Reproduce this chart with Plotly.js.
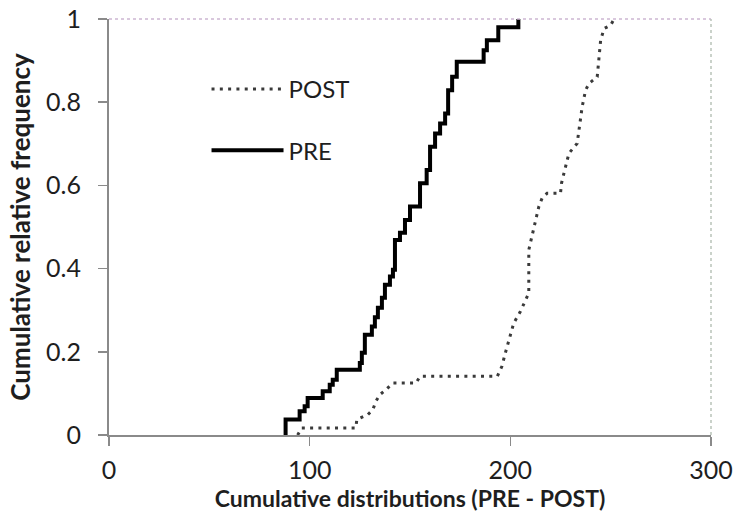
<!DOCTYPE html>
<html>
<head>
<meta charset="utf-8">
<script src="https://cdn.plot.ly/plotly-3.0.1.min.js"></script>
<style>
html,body{margin:0;padding:0;background:#fff;}
#chart{width:735px;height:515px;}
</style>
</head>
<body>
<div id="chart"></div>
<script>
// PRE cumulative distribution (step corners: value, cumulative frequency)
const preX = [88, 88, 95, 97.5, 99, 106.5, 110, 111.5, 113.5, 125, 126, 127.5, 131, 132.5, 134, 136, 137.5, 140, 141.5, 142.5, 145, 147.5, 150, 155, 158.3, 160, 162.5, 165, 167.5, 169, 171, 173.3, 186.7, 188.3, 194, 204];
const preY = [0, 0.037, 0.057, 0.069, 0.089, 0.105, 0.121, 0.133, 0.157, 0.173, 0.198, 0.241, 0.261, 0.283, 0.306, 0.33, 0.361, 0.381, 0.397, 0.469, 0.486, 0.517, 0.549, 0.605, 0.637, 0.693, 0.725, 0.749, 0.773, 0.829, 0.861, 0.897, 0.925, 0.949, 0.98, 1.0];

// POST cumulative distribution
const postX = [94, 96, 123, 123.5, 129, 131.5, 133, 135, 138, 141.5, 153, 155, 193.5, 195.8, 197.5, 199.2, 201.7, 205, 207.5, 209.2, 209.2, 210.8, 212.5, 214.2, 215.8, 218.3, 225, 225.5, 226.7, 229.2, 233.3, 234.2, 235.8, 237.5, 239.2, 243.3, 244.2, 245, 246.7, 250, 251.7];
const postY = [0, 0.017, 0.017, 0.037, 0.049, 0.061, 0.081, 0.097, 0.109, 0.125, 0.125, 0.141, 0.141, 0.165, 0.197, 0.229, 0.269, 0.297, 0.325, 0.341, 0.445, 0.477, 0.509, 0.549, 0.569, 0.581, 0.581, 0.605, 0.629, 0.677, 0.701, 0.737, 0.789, 0.829, 0.845, 0.861, 0.901, 0.949, 0.977, 0.985, 1.0];

const xTicks = [0, 100, 200, 300];
const yTicks = [0, 0.2, 0.4, 0.6, 0.8, 1];
const seriesNames = ["POST", "PRE"];
const xTitle = "Cumulative distributions (PRE - POST)";
const yTitle = "Cumulative relative frequency";

const FONT = "Lato, 'Open Sans', sans-serif";
const TXT = "#1e1e1e";
const AX = "#8a8a8a";

const traces = [
  {
    x: postX, y: postY, name: seriesNames[0], type: "scatter", mode: "lines",
    line: {color: "#3a3a3a", width: 3, dash: "3px,5.3px"},
    legendgroup: "g1"
  },
  {
    x: preX, y: preY, name: seriesNames[1], type: "scatter", mode: "lines",
    line: {color: "#000000", width: 4, shape: "hv"},
    legendgroup: "g2"
  }
];

const axisCommon = {
  showgrid: false, zeroline: false, showline: true,
  linecolor: AX, linewidth: 2,
  ticks: "outside", ticklen: 9, tickwidth: 1.5, tickcolor: AX,
  tickfont: {family: FONT, size: 25, color: TXT}
};

const layout = {
  width: 735, height: 515,
  margin: {l: 109, r: 24, t: 19, b: 80},
  paper_bgcolor: "#fff", plot_bgcolor: "#fff",
  showlegend: true,
  legend: {
    x: 0.162, y: 0.885, xanchor: "left", yanchor: "top",
    font: {family: FONT, size: 24, color: TXT},
    bgcolor: "rgba(0,0,0,0)", borderwidth: 0,
    tracegroupgap: 27, itemwidth: 72
  },
  xaxis: Object.assign({}, axisCommon, {
    range: [0, 300], tickvals: xTicks, ticktext: xTicks.map(String),
    ticklabelstandoff: 3,
    title: {text: xTitle, font: {family: FONT, size: 23, color: TXT, weight: "bold"}, standoff: 4}
  }),
  yaxis: Object.assign({}, axisCommon, {
    range: [0, 1], tickvals: yTicks, ticktext: yTicks.map(String),
    ticklabelstandoff: 12,
    title: {text: yTitle, font: {family: FONT, size: 26, color: TXT, weight: "bold"}, standoff: 8}
  }),
  xaxis2: {
    overlaying: "x", anchor: "y2", range: [0, 300], tickvals: xTicks,
    showticklabels: false, showgrid: false, zeroline: false, showline: false,
    ticks: "inside", ticklen: 9, tickwidth: 1.5, tickcolor: AX
  },
  yaxis2: {
    overlaying: "y", anchor: "x2", range: [0, 1], tickvals: yTicks,
    showticklabels: false, showgrid: false, zeroline: false, showline: false,
    ticks: "inside", ticklen: 9, tickwidth: 1.5, tickcolor: AX
  },
  shapes: [
    {type: "line", xref: "paper", yref: "paper", x0: 0, x1: 1, y0: 1, y1: 1,
     line: {color: "#cdb6d2", width: 1.5, dash: "dot"}},
    {type: "line", xref: "paper", yref: "paper", x0: 1, x1: 1, y0: 0, y1: 1,
     line: {color: "#b9c4b9", width: 1.5, dash: "dot"}}
  ]
};

Plotly.newPlot("chart", traces, layout, {displayModeBar: false, staticPlot: true});
</script>
</body>
</html>
